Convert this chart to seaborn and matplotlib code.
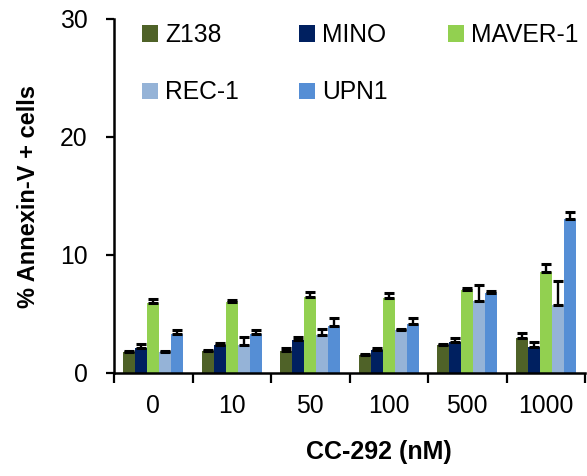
import pandas as pd
import seaborn as sns
import matplotlib.pyplot as plt

# CC-292 doses (nM)
doses = ["0", "10", "50", "100", "500", "1000"]
lines = ["Z138", "MINO", "MAVER-1", "REC-1", "UPN1"]

# % Annexin-V + cells, mean and upper error per cell line
z138 = [1.75, 1.86, 1.86, 1.55, 2.35, 2.99]
z138_err = [0.10, 0.10, 0.25, 0.10, 0.08, 0.37]
mino = [2.10, 2.40, 2.77, 1.97, 2.63, 2.23]
mino_err = [0.35, 0.15, 0.30, 0.17, 0.34, 0.37]
maver1 = [5.93, 6.05, 6.42, 6.38, 7.06, 8.56]
maver1_err = [0.34, 0.12, 0.42, 0.40, 0.11, 0.68]
rec1 = [1.75, 2.35, 3.22, 3.62, 6.10, 5.79]
rec1_err = [0.10, 0.70, 0.54, 0.10, 1.38, 1.98]
upn1 = [3.34, 3.30, 4.02, 4.13, 6.78, 13.08]
upn1_err = [0.30, 0.37, 0.62, 0.56, 0.20, 0.60]

colors = ["#4F6228", "#002060", "#92D050", "#95B3D7", "#558ED5"]

means = [z138, mino, maver1, rec1, upn1]
errs = [z138_err, mino_err, maver1_err, rec1_err, upn1_err]

df = pd.DataFrame({
    "dose": doses * len(lines),
    "line": [l for l in lines for _ in doses],
    "value": [v for m in means for v in m],
})

sns.set_style("white")
plt.rcParams["font.family"] = ["Liberation Sans", "DejaVu Sans"]
for k in ["text.color", "axes.labelcolor", "xtick.color", "ytick.color"]:
    plt.rcParams[k] = "black"

fig = plt.figure(figsize=(5.87, 4.76), dpi=100)
ax = fig.add_axes([114 / 587, 1 - 373 / 476, 471 / 587, 354 / 476])

sns.barplot(data=df, x="dose", y="value", hue="line", order=doses,
            hue_order=lines, palette=colors, errorbar=None, width=0.76,
            saturation=1, linewidth=0, ax=ax)

# upper-only error bars, one container per cell line
for cont, err in zip(ax.containers, errs):
    xs = [p.get_x() + p.get_width() / 2 for p in cont.patches]
    ys = [p.get_height() for p in cont.patches]
    ax.errorbar(xs, ys, yerr=[[0] * len(err), err], fmt="none",
                ecolor="black", elinewidth=1.7, capsize=3.3, capthick=2.2)

ax.set_xlim(-0.5, len(doses) - 0.5)
ax.set_ylim(0, 30)
ax.set_yticks([0, 10, 20, 30])

ax.set_xticks([i - 0.5 for i in range(len(doses) + 1)], minor=True)
ax.tick_params(axis="x", which="major", length=0, pad=15, labelsize=17.8)
ax.tick_params(axis="x", which="minor", length=7, width=1.6,
               direction="out", bottom=True)
ax.tick_params(axis="y", length=6, width=1.6, direction="out", left=True,
               labelsize=17.8, pad=13)

sns.despine(ax=ax)
for s in ["left", "bottom"]:
    ax.spines[s].set_linewidth(1.8)
    ax.spines[s].set_color("black")

ax.set_xlabel("CC-292 (nM)", fontsize=18, fontweight="bold", labelpad=16)
ax.xaxis.label.set_x(0.5616)
ax.set_ylabel("% Annexin-V + cells", fontsize=17, fontweight="bold",
              labelpad=14)

# legend filled row by row (3 columns, 2 rows)
handles, labels = ax.get_legend_handles_labels()
order = [0, 3, 1, 4, 2]
ax.legend([handles[i] for i in order], [labels[i] for i in order],
          loc="upper left", bbox_to_anchor=(142 / 587, 1 - 23 / 476),
          bbox_transform=fig.transFigure, ncol=3, frameon=False,
          fontsize=17.7, handlelength=0.65, handleheight=0.65,
          handletextpad=0.28, labelspacing=1.36, columnspacing=2.45,
          borderpad=0, borderaxespad=0)

fig.savefig("out.png", dpi=100)
